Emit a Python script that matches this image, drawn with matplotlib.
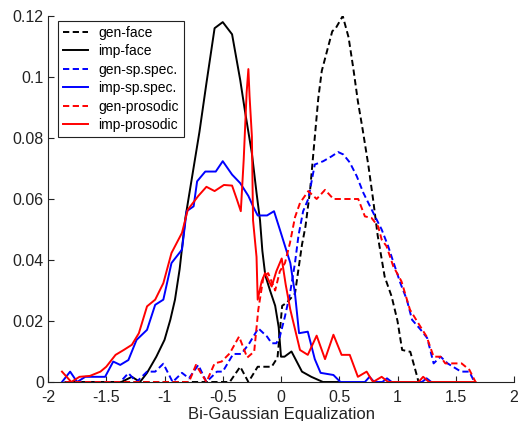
import matplotlib
matplotlib.use("Agg")
import matplotlib.pyplot as plt
from matplotlib.ticker import FuncFormatter

plt.rcParams["font.family"] = ["Liberation Sans", "DejaVu Sans"]
plt.rcParams["lines.scale_dashes"] = False

# gen-face (black dashed)
gen_face_x = [-1.85, -0.44, -0.35, -0.28, -0.20, -0.08, -0.03,
              0.01, 0.05, 0.12, 0.18, 0.21, 0.25, 0.28, 0.32, 0.35, 0.44,
              0.47, 0.53, 0.58, 0.62, 0.66, 0.70, 0.75, 0.79, 0.83, 0.89,
              0.95, 1.00, 1.04, 1.11, 1.17, 1.18]
gen_face_y = [0, 0, 0.005, 0, 0.005, 0.005, 0.008,
              0.025, 0.026, 0.029, 0.045, 0.051, 0.063, 0.076, 0.093, 0.102, 0.115,
              0.116, 0.120, 0.113, 0.103, 0.092, 0.083, 0.071, 0.060, 0.048, 0.0345,
              0.028, 0.020, 0.0105, 0.0099, 0.0016, 0]

# imp-face (black solid)
imp_face_x = [-1.85, -1.37, -1.28, -1.21, -1.15, -1.07, -1.00, -0.95, -0.91, -0.87,
              -0.82, -0.70, -0.64, -0.57, -0.50, -0.42, -0.35, -0.31, -0.25, -0.21,
              -0.18, -0.16, -0.135, -0.094, -0.05, -0.02, 0.0, 0.03, 0.09, 0.135,
              0.18, 0.26, 0.36, 0.50]
imp_face_y = [0, 0, 0.0017, 0, 0.003, 0.0083, 0.0138, 0.0204, 0.027, 0.037,
              0.054, 0.082, 0.098, 0.116, 0.118, 0.114, 0.099, 0.089, 0.075, 0.062,
              0.053, 0.043, 0.035, 0.030, 0.025, 0.018, 0.0083, 0.0083, 0.010, 0.0067,
              0.0034, 0.0017, 0, 0]

# gen-sp.spec. (blue dashed)
gen_sp_x = [-1.85, -1.38, -1.31, -1.24, -1.15, -1.08, -1.01, -0.93, -0.85, -0.79,
            -0.71, -0.64, -0.55, -0.50, -0.41, -0.34, -0.27, -0.195, -0.12, -0.08,
            -0.04, -0.01, 0.034, 0.077, 0.12, 0.15, 0.19, 0.234, 0.29, 0.363,
            0.435, 0.49, 0.535, 0.59, 0.65, 0.707, 0.75, 0.807, 0.864, 0.92,
            0.95, 1.025, 1.08, 1.125, 1.20, 1.255, 1.31, 1.37, 1.43, 1.545,
            1.617, 1.66]
gen_sp_y = [0, 0, 0.0029, 0, 0.0034, 0.0034, 0.006, 0, 0.003, 0.0012,
            0.0056, 0, 0.0034, 0.0034, 0.0092, 0.0092, 0.0128, 0.0176, 0.0149, 0.0127,
            0.0127, 0.0149, 0.0215, 0.029, 0.039, 0.048, 0.056, 0.060, 0.0713, 0.0724,
            0.074, 0.0754, 0.0746, 0.072, 0.0675, 0.062, 0.0587, 0.0543, 0.050, 0.0445,
            0.041, 0.0324, 0.027, 0.0204, 0.0171, 0.0144, 0.0061, 0.0083, 0.0061, 0.0034,
            0.0034, 0]

# imp-sp.spec. (blue solid)
imp_sp_x = [-1.88, -1.81, -1.75, -1.68, -1.51, -1.44, -1.38, -1.31, -1.24, -1.15,
            -1.08, -1.01, -0.94, -0.85, -0.81, -0.75, -0.72, -0.65, -0.56, -0.50,
            -0.42, -0.35, -0.28, -0.24, -0.20, -0.12, -0.06, -0.01, 0.08, 0.12,
            0.155, 0.23, 0.29, 0.34, 0.45, 0.51, 0.72, 0.76, 0.80, 0.87,
            0.91, 0.95, 1.21, 1.25, 1.29]
imp_sp_y = [0, 0.0034, 0, 0.0017, 0.0017, 0.0067, 0.0056, 0.0072, 0.0138, 0.0171,
            0.0253, 0.027, 0.039, 0.0434, 0.056, 0.0576, 0.0658, 0.069, 0.069, 0.0724,
            0.068, 0.0652, 0.061, 0.0576, 0.0546, 0.0546, 0.056, 0.050, 0.039, 0.029,
            0.016, 0.0165, 0.0075, 0.003, 0.0023, 0, 0, 0.0017, 0, 0,
            0.0012, 0, 0, 0.0012, 0]

# gen-prosodic (red dashed)
gen_pros_x = [-1.85, -0.79, -0.73, -0.64, -0.57, -0.51, -0.44, -0.36, -0.29, -0.23,
              -0.195, -0.15, -0.11, -0.05, -0.01, 0.034, 0.077, 0.12, 0.163, 0.234,
              0.306, 0.378, 0.45, 0.663, 0.72, 0.777, 0.834, 0.864, 0.906, 0.963,
              1.034, 1.107, 1.178, 1.25, 1.31, 1.37, 1.41, 1.55, 1.617, 1.67]
gen_pros_y = [0, 0, 0.0056, 0, 0.0061, 0.0067, 0.0094, 0.0149, 0.008, 0.010,
              0.0237, 0.0346, 0.0357, 0.030, 0.0363, 0.039, 0.0456, 0.054, 0.0587, 0.0626,
              0.060, 0.063, 0.060, 0.060, 0.0543, 0.0538, 0.051, 0.0467, 0.0445, 0.038,
              0.033, 0.0237, 0.0193, 0.0149, 0.0083, 0.0083, 0.0061, 0.0061, 0.004, 0]

# imp-prosodic (red solid)
imp_pros_x = [-1.88, -1.80, -1.73, -1.64, -1.55, -1.50, -1.42, -1.35, -1.28, -1.22,
              -1.15, -1.08, -1.01, -0.94, -0.85, -0.80, -0.71, -0.64, -0.57, -0.49,
              -0.42, -0.38, -0.345, -0.32, -0.295, -0.28, -0.27, -0.25, -0.24, -0.21,
              -0.20, -0.166, -0.137, -0.08, -0.04, 0.006, 0.04, 0.08, 0.163, 0.23,
              0.306, 0.378, 0.45, 0.52, 0.59, 0.66, 0.735, 0.79, 0.864, 0.92,
              1.18, 1.22, 1.27, 1.67]
imp_pros_y = [0.0034, 0, 0.0017, 0.002, 0.0034, 0.005, 0.0089, 0.0105, 0.0122, 0.016,
              0.0248, 0.027, 0.0324, 0.0423, 0.0489, 0.0565, 0.061, 0.064, 0.0626, 0.0646,
              0.0644, 0.060, 0.056, 0.073, 0.0949, 0.1026, 0.0938, 0.0806, 0.053, 0.041,
              0.027, 0.033, 0.0357, 0.0313, 0.0363, 0.0405, 0.032, 0.0237, 0.0105, 0.0089,
              0.0152, 0.0075, 0.0155, 0.0089, 0.0089, 0.0017, 0.0034, 0, 0.0017, 0,
              0, 0.0017, 0, 0]

x_ticks = [-2, -1.5, -1, -0.5, 0, 0.5, 1, 1.5, 2]
y_ticks = [0, 0.02, 0.04, 0.06, 0.08, 0.1, 0.12]

fig = plt.figure(figsize=(5.19, 4.21), dpi=100)
ax = fig.add_axes([48 / 519, 39 / 421, 466 / 519, 366 / 421])

lw = 1.4
dash = (4.5, 2.5)
ax.plot(gen_face_x, gen_face_y, color="black", lw=lw, dashes=dash, label="gen-face")
ax.plot(imp_face_x, imp_face_y, color="black", lw=lw, label="imp-face")
ax.plot(gen_sp_x, gen_sp_y, color="blue", lw=lw, dashes=dash, label="gen-sp.spec.")
ax.plot(imp_sp_x, imp_sp_y, color="blue", lw=lw, label="imp-sp.spec.")
ax.plot(gen_pros_x, gen_pros_y, color="red", lw=lw, dashes=dash, label="gen-prosodic")
ax.plot(imp_pros_x, imp_pros_y, color="red", lw=lw, label="imp-prosodic")

ax.set_xlim(-2, 2)
ax.set_ylim(0, 0.12)
ax.set_xticks(x_ticks)
ax.set_yticks(y_ticks)
ax.xaxis.set_major_formatter(FuncFormatter(lambda v, p: f"{v:g}"))
ax.yaxis.set_major_formatter(FuncFormatter(lambda v, p: f"{v:g}"))
ax.tick_params(direction="in", length=4, width=0.8, labelsize=11.5, colors="#222222")
ax.tick_params(axis="x", pad=6)
ax.tick_params(axis="y", pad=3)
for side in ("top", "right"):
    ax.spines[side].set_visible(False)
for side in ("left", "bottom"):
    ax.spines[side].set_color("#222222")
    ax.spines[side].set_linewidth(0.8)

ax.set_xlabel("Bi-Gaussian Equalization", fontsize=12, labelpad=1, color="#222222")

leg = ax.legend(loc="upper left", bbox_to_anchor=(10 / 466, 361 / 366),
                borderaxespad=0, fontsize=10, handlelength=1.8,
                handletextpad=0.75, labelspacing=0.32, borderpad=0.35,
                fancybox=False, framealpha=1, edgecolor="#222222")
leg.get_frame().set_linewidth(0.8)

fig.savefig("out.png", dpi=100)
